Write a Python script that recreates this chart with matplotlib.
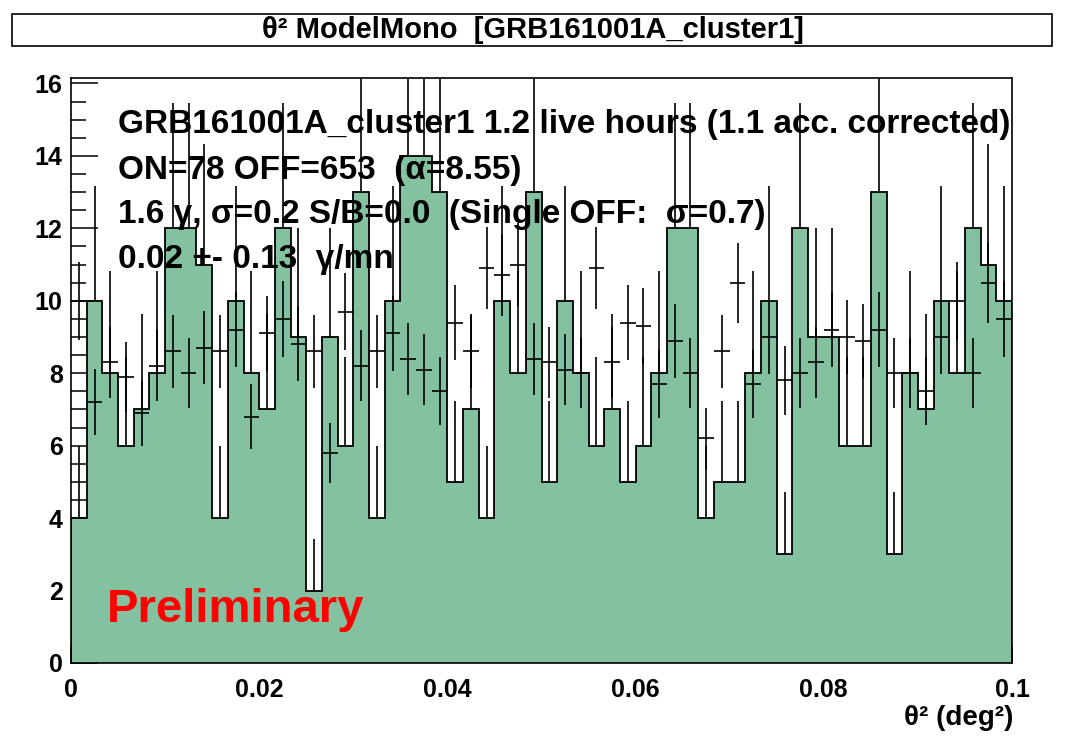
import numpy as np
import matplotlib
matplotlib.use('Agg')
import matplotlib.pyplot as plt
from matplotlib.patches import Rectangle
from matplotlib.ticker import MultipleLocator

plt.rcParams['font.family'] = ['Liberation Sans', 'DejaVu Sans']
plt.rcParams['font.weight'] = 'bold'

# ON counts per theta^2 bin (60 bins from 0 to 0.1 deg^2)
on_counts = [4, 10, 8, 6, 7, 8, 12, 12, 11, 4, 10, 8, 7, 12, 9,
             2, 9, 6, 13, 4, 10, 14, 14, 13, 5, 7, 4, 10, 8, 13,
             5, 10, 8, 6, 7, 5, 6, 8, 12, 12, 4, 5, 5, 8, 10,
             3, 12, 9, 9, 6, 6, 13, 3, 8, 7, 10, 8, 12, 11, 10]
# OFF counts scaled by 1/alpha
off_scaled = [10.0, 7.2, 8.3, 7.9, 6.9, 8.2, 8.6, 8.0, 8.7, 8.6, 9.2, 6.8, 9.1, 9.5, 8.8,
              8.6, 5.8, 9.7, 8.2, 8.6, 9.1, 8.4, 8.1, 7.5, 9.4, 8.6, 10.9, 10.7, 11.0, 8.4,
              8.3, 8.1, 8.0, 10.9, 8.3, 9.4, 9.3, 7.7, 8.9, 8.0, 6.2, 8.6, 10.5, 7.7, 9.0,
              7.8, 8.0, 8.3, 9.2, 9.0, 8.9, 9.2, 8.0, 8.0, 7.5, 9.0, 10.0, 8.0, 10.5, 9.5]
alpha = 8.55
theta2_range = (0.0, 0.1)

x_ticks = [0, 0.02, 0.04, 0.06, 0.08, 0.1]
x_tick_labels = ['0', '0.02', '0.04', '0.06', '0.08', '0.1']
y_ticks = [0, 2, 4, 6, 8, 10, 12, 14, 16]

title = 'θ² ModelMono  [GRB161001A_cluster1]'
info_lines = ['GRB161001A_cluster1 1.2 live hours (1.1 acc. corrected)',
              'ON=78 OFF=653  (α=8.55)',
              '1.6 γ, σ=0.2 S/B=0.0  (Single OFF:  σ=0.7)',
              '0.02 +- 0.13  γ/mn']

W, H = 1066, 737
fig = plt.figure(figsize=(W / 100, H / 100), dpi=100)
ax = fig.add_axes([71 / W, 1 - 663 / H, (1012 - 71) / W, (663 - 78) / H])

on = np.array(on_counts, dtype=float)
off = np.array(off_scaled)
edges = np.linspace(theta2_range[0], theta2_range[1], len(on) + 1)
centers = 0.5 * (edges[1:] + edges[:-1])
half_w = 0.5 * (edges[1] - edges[0])

green = '#83c1a1'
# ON errors (lower half hidden by the fill)
ax.errorbar(centers, on, yerr=np.sqrt(on), fmt='none', ecolor='black',
            elinewidth=1.2, capsize=0, zorder=1)
ax.stairs(on, edges, fill=True, color=green, zorder=2)
ax.stairs(on, edges, color='black', linewidth=1.3, zorder=3)
# scaled OFF points
ax.errorbar(centers, off, xerr=half_w, yerr=np.sqrt(off / alpha), fmt='none',
            ecolor='black', elinewidth=1.2, capsize=0, zorder=4)

ax.set_xlim(*theta2_range)
ax.set_ylim(0, 16.15)
ax.set_xticks(x_ticks)
ax.set_xticklabels(x_tick_labels)
ax.set_yticks(y_ticks)
ax.xaxis.set_minor_locator(MultipleLocator(0.005))
ax.yaxis.set_minor_locator(MultipleLocator(0.5))
ax.tick_params(which='both', direction='in', top=False, right=False,
               labelsize=18, width=1.1)
ax.tick_params(axis='x', which='major', length=12.5, pad=11)
ax.tick_params(axis='x', which='minor', length=6.5)
ax.tick_params(axis='y', which='major', length=19.5, pad=6)
ax.tick_params(axis='y', which='minor', length=10.5)
for sp in ax.spines.values():
    sp.set_linewidth(1.2)

# title box
fig.patches.append(Rectangle((12 / W, 1 - 46 / H), (1052 - 12) / W, 32 / H,
                             transform=fig.transFigure, facecolor='white',
                             edgecolor='black', linewidth=1.2))
fig.text(533 / W, 1 - 30 / H, title, ha='center', va='center', fontsize=21)

for i, line in enumerate(info_lines):
    fig.text(118 / W, 1 - (125 + 45 * i) / H, line, ha='left', va='center',
             fontsize=24, zorder=5)

fig.text(107 / W, 1 - 610 / H, 'Preliminary', color='red', ha='left',
         va='center', fontsize=34, zorder=5)
fig.text(1013 / W, 1 - 718 / H, 'θ² (deg²)', ha='right', va='center', fontsize=20)

fig.savefig('out.png', dpi=100)
